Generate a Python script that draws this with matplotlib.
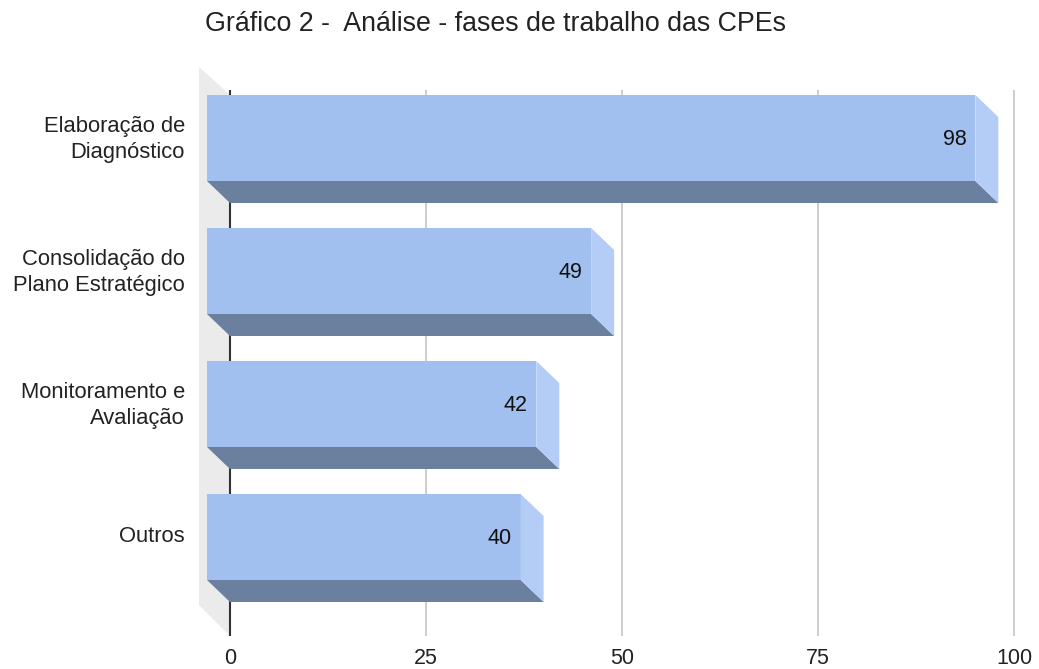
import matplotlib
matplotlib.use("Agg")
from matplotlib import pyplot as plt
from matplotlib.patches import Polygon
from matplotlib.transforms import ScaledTranslation

categories = ["Elaboração de\nDiagnóstico", "Consolidação do\nPlano Estratégico", "Monitoramento e\nAvaliação", "Outros"]
values = [98, 49, 42, 40]
x_ticks = [0, 25, 50, 75, 100]

title = "Gráfico 2 -  Análise - fases de trabalho das CPEs"

plt.rcParams['font.family'] = ['Liberation Sans', 'DejaVu Sans']

W, H = 1039, 669
fig = plt.figure(figsize=(W / 100, H / 100), dpi=100)
# axes box: x 0..100 is 230..1014 px, y covers 90..636 px
ax = fig.add_axes([230 / W, 1 - 636 / H, 784 / W, 546 / H])
ax.set_xlim(0, 100)

# one category step is 133 px, y=0 is the middle of the first front face (138 px)
y_top = (90 - 138) / 133
y_bottom = (636 - 138) / 133
ax.set_ylim(y_bottom, y_top)

# depth of the fake 3d effect
dx = 23 / 7.84
dy = 22 / 133
half = 43 / 133

# gray back wall on the left
wall = Polygon([(-3.95, y_top - 23 / 133), (0, y_top + 5 / 133), (0, y_bottom), (-3.95, y_bottom - 31 / 133)],
               closed=True, facecolor="#ebebeb", edgecolor="none", clip_on=False, zorder=1)
ax.add_patch(wall)

ax.vlines(x_ticks[1:], y_top, y_bottom, color="#cccccc", linewidth=1.4, zorder=1, clip_on=False)
ax.vlines(0, y_top, y_bottom, color="#333333", linewidth=1.5, zorder=2, clip_on=False)

for i, v in enumerate(values):
    front_right = v - dx
    front_left = -dx
    top = i - half
    bottom = i + half
    # front
    ax.add_patch(Polygon([(front_left, top), (front_right, top), (front_right, bottom), (front_left, bottom)],
                         closed=True, facecolor="#a1bfef", edgecolor="none", clip_on=False, zorder=3))
    # floor
    ax.add_patch(Polygon([(front_left, bottom), (front_right, bottom), (v, bottom + dy), (0, bottom + dy)],
                         closed=True, facecolor="#6b7f9f", edgecolor="none", clip_on=False, zorder=3))
    # right side
    ax.add_patch(Polygon([(front_right, top), (v, top + dy), (v, bottom + dy), (front_right, bottom)],
                         closed=True, facecolor="#b3cdf6", edgecolor="none", clip_on=False, zorder=3))
    ax.text(front_right - 9 / 7.84, i + 2 / 133, str(v), ha="right", va="center", fontsize=15.5, color="#111111", zorder=4)

for s in ax.spines.values():
    s.set_visible(False)

ax.set_xticks(x_ticks)
ax.set_yticks(range(len(categories)))
ax.set_yticklabels(categories, fontsize=15.8, color="#222222", linespacing=1.29, ha="right")
ax.tick_params(axis="both", length=0)
ax.tick_params(axis="x", labelsize=15.5, labelcolor="#222222", pad=9)
ax.tick_params(axis="y", pad=32.5)

# category labels sit a little above the bar middle
shift = ScaledTranslation(0, 3 / 100, fig.dpi_scale_trans)
for lab in ax.get_yticklabels():
    lab.set_transform(lab.get_transform() + shift)

fig.text(205 / W, 1 - 24 / H, title, fontsize=19.3, color="#222222", ha="left", va="center")

fig.savefig("out.png", dpi=100)
